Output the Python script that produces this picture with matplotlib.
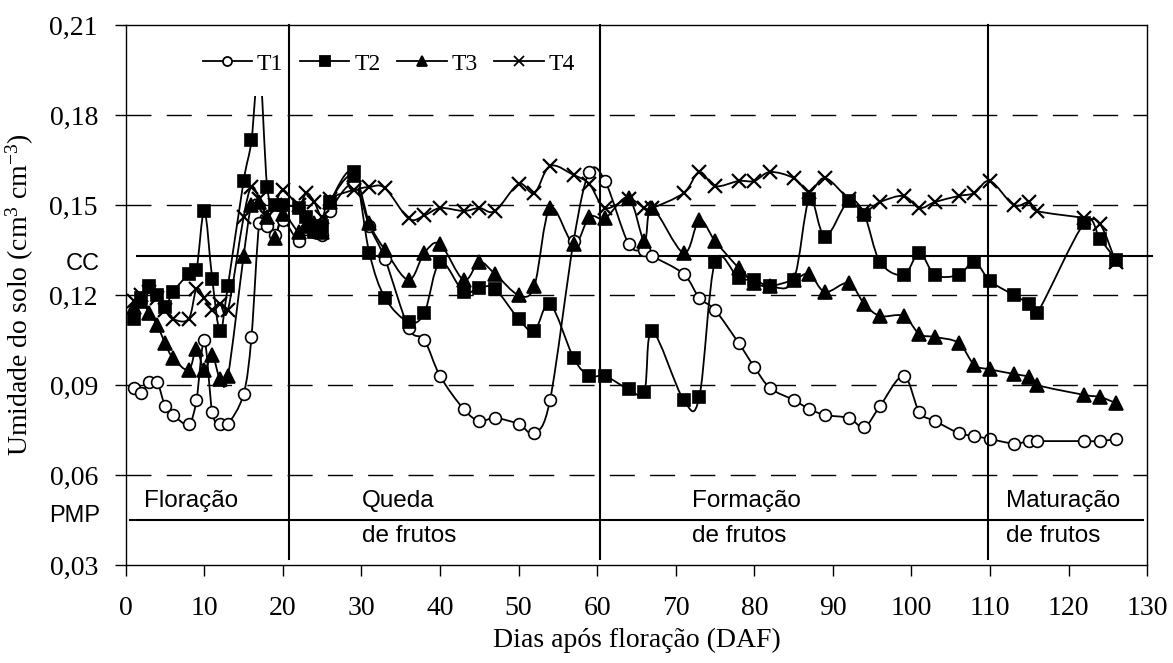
import numpy as np
import matplotlib.pyplot as plt
from matplotlib.path import Path
from matplotlib.patches import PathPatch
from matplotlib.lines import Line2D

plt.rcParams['font.family'] = 'Liberation Serif'
plt.rcParams['mathtext.fontset'] = 'custom'
plt.rcParams['mathtext.rm'] = 'Liberation Serif'
plt.rcParams['mathtext.default'] = 'regular'

# dias apos floracao (DAF)
dias = [1, 2, 3, 4, 5, 6, 8, 9, 10, 11, 12, 13, 15, 16, 17, 18, 19, 20, 22, 23,
        24, 25, 26, 29, 31, 33, 36, 38, 40, 43, 45, 47, 50, 52, 54, 57, 59, 61, 64, 66,
        67, 71, 73, 75, 78, 80, 82, 85, 87, 89, 92, 94, 96, 99, 101, 103, 106, 108, 110, 113,
        115, 116, 122, 124, 126]

# umidade do solo (cm3 cm-3) por tratamento
t1 = [0.089, 0.0875, 0.091, 0.091, 0.083, 0.080, 0.077, 0.085, 0.105, 0.081, 0.077, 0.077, 0.087, 0.106, 0.144, 0.143, 0.140, 0.145, 0.138, 0.142,
      0.141, 0.140, 0.148, 0.157, 0.143, 0.132, 0.109, 0.105, 0.093, 0.082, 0.078, 0.079, 0.077, 0.074, 0.085, 0.138, 0.161, 0.158, 0.137, 0.135,
      0.133, 0.127, 0.119, 0.115, 0.104, 0.096, 0.089, 0.085, 0.082, 0.080, 0.079, 0.076, 0.083, 0.093, 0.081, 0.078, 0.074, 0.073, 0.072, 0.0705,
      0.0713, 0.0713, 0.0713, 0.0713, 0.072]
t2 = [0.112, 0.119, 0.123, 0.120, 0.116, 0.121, 0.127, 0.1285, 0.148, 0.1255, 0.108, 0.123, 0.158, 0.1715, 0.197, 0.156, 0.150, 0.150, 0.149, 0.146,
      0.141, 0.143, 0.151, 0.161, 0.134, 0.119, 0.111, 0.114, 0.131, 0.121, 0.1225, 0.122, 0.112, 0.108, 0.117, 0.099, 0.093, 0.093, 0.0886, 0.0878,
      0.108, 0.085, 0.086, 0.131, 0.1256, 0.125, 0.123, 0.125, 0.152, 0.1394, 0.1514, 0.1467, 0.131, 0.1267, 0.134, 0.1267, 0.1267, 0.131, 0.1247, 0.120,
      0.117, 0.114, 0.144, 0.1386, 0.1317]
t3 = [0.116, 0.118, 0.114, 0.110, 0.104, 0.099, 0.095, 0.102, 0.095, 0.100, 0.092, 0.093, 0.133, 0.150, 0.151, 0.146, 0.139, 0.147, 0.141, 0.143,
      0.144, 0.141, 0.151, 0.160, 0.144, 0.135, 0.125, 0.134, 0.137, 0.125, 0.131, 0.127, 0.120, 0.123, 0.149, 0.137, 0.146, 0.1456, 0.1524, 0.138,
      0.149, 0.134, 0.145, 0.138, 0.129, 0.124, 0.123, 0.125, 0.127, 0.121, 0.124, 0.117, 0.113, 0.113, 0.107, 0.106, 0.104, 0.0967, 0.0952, 0.0937,
      0.0926, 0.090, 0.0867, 0.086, 0.084]
t4 = [0.118, 0.120, 0.121, 0.119, 0.115, 0.112, 0.112, 0.122, 0.119, 0.115, 0.117, 0.115, 0.146, 0.156, 0.152, 0.146, 0.150, 0.155, 0.150, 0.154,
      0.151, 0.146, 0.152, 0.155, 0.156, 0.1556, 0.1455, 0.1465, 0.149, 0.148, 0.149, 0.148, 0.157, 0.154, 0.163, 0.160, 0.157, 0.149, 0.152, 0.149,
      0.149, 0.154, 0.161, 0.1563, 0.158, 0.158, 0.161, 0.159, 0.1544, 0.159, 0.152, 0.148, 0.151, 0.153, 0.149, 0.151, 0.153, 0.154, 0.158, 0.150,
      0.151, 0.148, 0.1456, 0.1437, 0.131]

series = [("T1", t1, 'o', 'white'), ("T2", t2, 's', 'black'),
          ("T3", t3, '^', 'black'), ("T4", t4, 'x', 'black')]

cc = 0.133    # capacidade de campo
pmp = 0.045   # ponto de murcha permanente
fases = [20.8, 60.4, 109.7]


def curva(x, y):
    # bezier path through the points (smoothed line)
    pts = np.column_stack([x, y])
    n = len(pts)
    verts = [pts[0]]
    codes = [Path.MOVETO]
    for i in range(n - 1):
        p0 = pts[i - 1] if i > 0 else pts[i]
        p1 = pts[i]
        p2 = pts[i + 1]
        p3 = pts[i + 2] if i + 2 < n else pts[i + 1]
        verts += [p1 + (p2 - p0) / 6.0, p2 - (p3 - p1) / 6.0, p2]
        codes += [Path.CURVE4] * 3
    return Path(verts, codes)


fig = plt.figure(figsize=(11.73, 6.63), dpi=100)
ax = fig.add_axes([0.1072, 0.1478, 0.8708, 0.8145])

# dashed reference lines
for v in [0.06, 0.09, 0.12, 0.15, 0.18]:
    ax.axhline(v, color='black', lw=1.0, ls=(0, (18, 11)), zorder=1)

handles = []
for nome, y, m, fc in series:
    ax.add_patch(PathPatch(curva(dias, y), fill=False, ec='black', lw=1.3, zorder=2))
    ms = 9.5 if m in ('x', '^') else 8.5
    mew = 1.6 if m == 'x' else 1.2
    ax.plot(dias, y, ls='none', marker=m, ms=ms, mfc=fc, mec='black', mew=mew, zorder=3)
    handles.append(Line2D([], [], color='black', lw=1.3, marker=m, ms=7 if m != 'o' else 6.5,
                          mfc=fc, mec='black', mew=1.3))

# CC and PMP
ax.plot([1.4, 130.6], [cc, cc], color='black', lw=1.5, zorder=2, clip_on=False)
ax.plot([0.55, 129.5], [pmp, pmp], color='black', lw=1.5, zorder=2, clip_on=False)
ax.text(-3.3, cc - 0.0025, 'CC', family='Liberation Sans', fontsize=17, ha='right', va='center', clip_on=False)
ax.text(-3.3, pmp + 0.0015, 'PMP', family='Liberation Sans', fontsize=17, ha='right', va='center', clip_on=False)

# phase boundaries
for xv in fases:
    ax.plot([xv, xv], [0.032, 0.21], color='black', lw=1.5, zorder=6, clip_on=False)

fs = dict(family='Liberation Sans', fontsize=17.5, va='center')
ax.text(2.3, 0.0513, 'Floração', **fs)
ax.text(30.1, 0.0513, 'Queda', **fs)
ax.text(30.1, 0.0396, 'de frutos', **fs)
ax.text(72.1, 0.0513, 'Formação', **fs)
ax.text(72.1, 0.0396, 'de frutos', **fs)
ax.text(112.0, 0.0513, 'Maturação', **fs)
ax.text(112.0, 0.0396, 'de frutos', **fs)

leg = ax.legend(handles, [s[0] for s in series], ncol=4, loc='center left',
                bbox_to_anchor=(0.0545, 0.928), frameon=True, facecolor='white',
                edgecolor='none', framealpha=1, fancybox=False, fontsize=17,
                handlelength=2.1, handletextpad=0.2, columnspacing=0.7,
                borderpad=0.9, borderaxespad=0)
leg.set_zorder(5)

ax.set_xlim(0, 130)
ax.set_ylim(0.03, 0.21)
ax.set_xticks(np.arange(0, 131, 10))
yt = np.arange(0.03, 0.211, 0.03)
ax.set_yticks(yt)
ax.set_yticklabels([f'{v:.2f}'.replace('.', ',') for v in yt])
ax.tick_params(axis='both', direction='out', length=8, width=1.0, labelsize=20)
ax.tick_params(axis='x', pad=14)
ax.tick_params(axis='y', pad=12)
for s in ax.spines.values():
    s.set_linewidth(1.0)

ax.set_xlabel('Dias após floração (DAF)', fontsize=20, labelpad=5)
ax.set_ylabel('Umidade do solo (cm$^{3}$ cm$^{-3}$)', fontsize=20, labelpad=10)

fig.savefig('out.png', dpi=100)
